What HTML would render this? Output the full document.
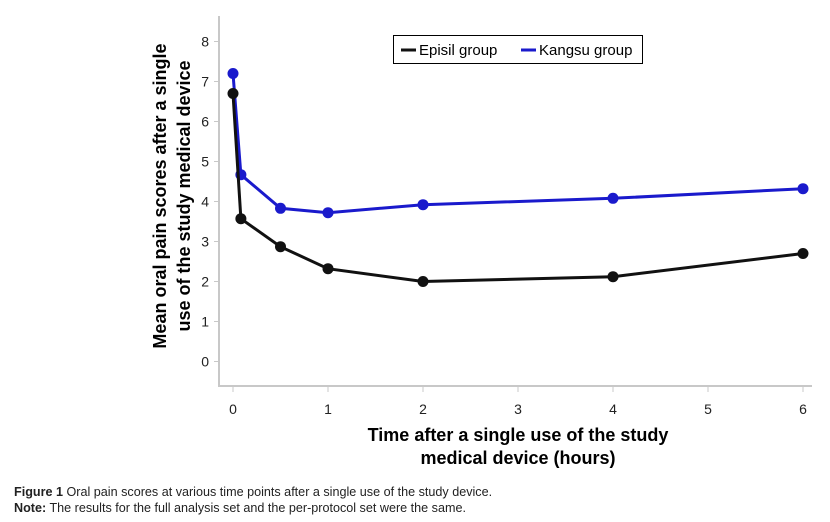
<!DOCTYPE html>
<html><head><meta charset="utf-8"><style>
body{margin:0;background:#fff;}
svg{display:block;font-family:"Liberation Sans",Arial,sans-serif;}
</style></head><body>
<svg id="c" width="830" height="522" xmlns="http://www.w3.org/2000/svg">
<g id="axes"></g>
<g id="series"></g>
<g>
<rect x="393.5" y="35.5" width="249" height="28" fill="#fff" stroke="#000" stroke-width="1"/>
<line x1="401" y1="50" x2="416" y2="50" stroke="#111" stroke-width="3"/>
<text x="419" y="55" font-size="15" fill="#000">Episil group</text>
<line x1="521" y1="50" x2="536" y2="50" stroke="#1a1acc" stroke-width="3"/>
<text x="539" y="55" font-size="15" fill="#000">Kangsu group</text>
</g>
<text transform="translate(166,196) rotate(-90)" text-anchor="middle" font-size="18" font-weight="bold" fill="#000">Mean oral pain scores after a single</text>
<text transform="translate(190,196) rotate(-90)" text-anchor="middle" font-size="18" font-weight="bold" fill="#000">use of the study medical device</text>
<text x="518" y="441" text-anchor="middle" font-size="18" font-weight="bold" fill="#000">Time after a single use of the study</text>
<text x="518" y="464" text-anchor="middle" font-size="18" font-weight="bold" fill="#000">medical device (hours)</text>
<text x="14" y="496" font-size="12.6" fill="#222"><tspan font-weight="bold">Figure 1</tspan> Oral pain scores at various time points after a single use of the study device.</text>
<text x="14" y="512" font-size="12.6" fill="#222"><tspan font-weight="bold">Note:</tspan> The results for the full analysis set and the per-protocol set were the same.</text>
</svg>
<script>
const times=[0,0.083,0.5,1,2,4,6];
const episil=[6.7,3.57,2.87,2.32,2.0,2.12,2.7];
const kangsu=[7.2,4.67,3.83,3.72,3.92,4.08,4.32];
const xTicks=[0,1,2,3,4,5,6];
const yTicks=[0,1,2,3,4,5,6,7,8];
const NS="http://www.w3.org/2000/svg";
const xs=v=>233+v*95;
const ys=v=>361.5-v*40;
function mk(tag,attrs,parent){const e=document.createElementNS(NS,tag);for(const k in attrs)e.setAttribute(k,attrs[k]);parent.appendChild(e);return e;}
const ax=document.getElementById('axes');
let l=mk('line',{x1:219,y1:16,x2:219,y2:386,stroke:'#c8c8c8','stroke-width':2},ax);


l=mk('line',{x1:218,y1:386,x2:812,y2:386,stroke:'#c8c8c8','stroke-width':2},ax);


yTicks.forEach(t=>{
 const tk=mk('line',{x1:214,y1:ys(t),x2:219,y2:ys(t),stroke:'#c8c8c8','stroke-width':1},ax);
 
 
 const tx=mk('text',{x:209,y:ys(t)+5,'text-anchor':'end','font-size':14,fill:'#222'},ax);
 tx.textContent=t;
 
 
});
xTicks.forEach(t=>{
 const tk=mk('line',{x1:xs(t),y1:386,x2:xs(t),y2:392,stroke:'#c8c8c8','stroke-width':1},ax);
 
 
 const tx=mk('text',{x:xs(t),y:414,'text-anchor':'middle','font-size':14,fill:'#222'},ax);
 tx.textContent=t;
 
 
});
const sg=document.getElementById('series');
function draw(vals,color,name){
 const p=mk('polyline',{points:times.map((t,i)=>xs(t)+','+ys(vals[i])).join(' '),fill:'none',stroke:color,'stroke-width':3},sg);
 
 
 vals.forEach((v,i)=>{
  const c=mk('circle',{cx:xs(times[i]),cy:ys(v),r:5.5,fill:color},sg);
  
  
 });
}
draw(kangsu,'#1a1acc','kangsu');
draw(episil,'#111','episil');
</script>
</body></html>
